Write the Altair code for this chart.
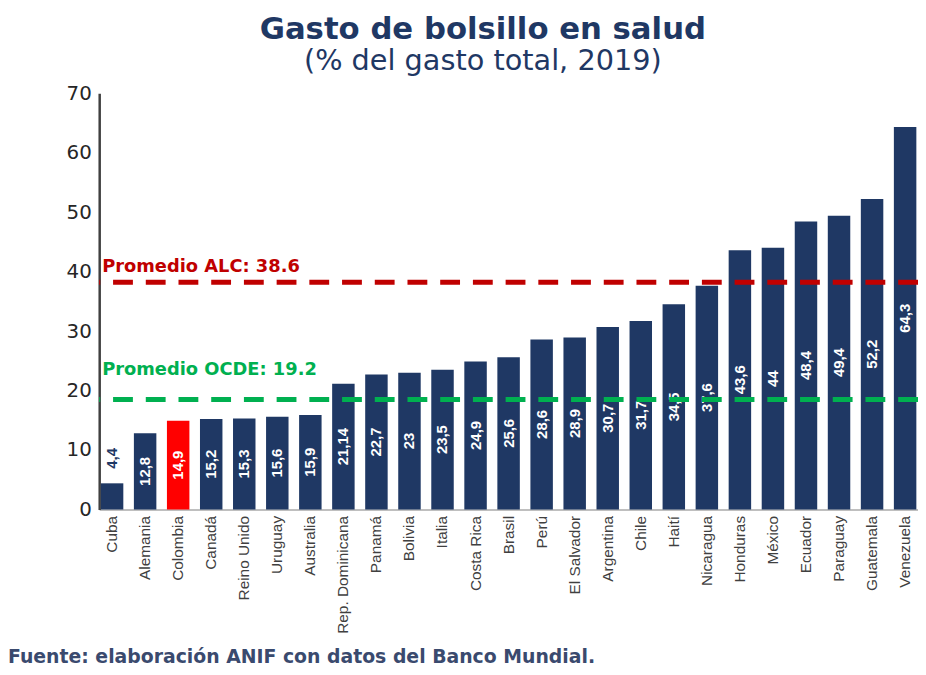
import altair as alt
import pandas as pd

countries = ["Cuba", "Alemania", "Colombia", "Canadá", "Reino Unido", "Uruguay", "Australia",
             "Rep. Dominicana", "Panamá", "Bolivia", "Italia", "Costa Rica", "Brasil", "Perú",
             "El Salvador", "Argentina", "Chile", "Haití", "Nicaragua", "Honduras", "México",
             "Ecuador", "Paraguay", "Guatemala", "Venezuela"]
values = [4.4, 12.8, 14.9, 15.2, 15.3, 15.6, 15.9, 21.14, 22.7, 23, 23.5, 24.9, 25.6, 28.6,
          28.9, 30.7, 31.7, 34.5, 37.6, 43.6, 44, 48.4, 49.4, 52.2, 64.3]
highlight = "Colombia"

avg_labels = ["Promedio ALC: 38.6", "Promedio OCDE: 19.2"]
avg_values = [38.2, 18.5]
avg_colors = ["#C00000", "#00B050"]

title_text = "Gasto de bolsillo en salud"
subtitle_text = "(% del gasto total, 2019)"
source_text = "Fuente: elaboración ANIF con datos del Banco Mundial."

NAVY = "#1F3864"
HORIZ_FONT = "DejaVu Sans"
VERT_FONT = "Liberation Sans Narrow, Liberation Sans, Arial"

df = pd.DataFrame({"pais": countries, "v": values})
avg_df = pd.DataFrame({"lab": avg_labels, "v": avg_values, "c": avg_colors})

W, H = 826, 420

xenc = alt.X("pais:N", sort=None, title=None,
             scale=alt.Scale(paddingInner=0.32, paddingOuter=0.05),
             axis=alt.Axis(labelAngle=270, labelFont=VERT_FONT, labelFontSize=15.5,
                           labelColor="#404040", ticks=False, labelPadding=6,
                           domainColor="#BFBFBF", domainWidth=2))
yscale = alt.Scale(domain=[0, 70], nice=False)

base = alt.Chart(df)

bars = base.mark_bar().encode(
    x=xenc,
    y=alt.Y("v:Q", scale=yscale, title=None,
            axis=alt.Axis(values=[0, 10, 20, 30, 40, 50, 60, 70], grid=False, ticks=False,
                          labelFont=HORIZ_FONT, labelFontSize=20, labelColor="#262626",
                          labelPadding=8, domainColor="#404040", domainWidth=2.5)),
    color=alt.condition(alt.datum.pais == highlight, alt.value("#FF0000"), alt.value(NAVY)),
)

labels = base.transform_calculate(
    ly="datum.v < 8 ? datum.v + 4.2 : datum.v / 2",
    txt="replace(toString(datum.v), '.', ',')",
).mark_text(angle=270, align="center", baseline="middle", font=VERT_FONT,
            fontSize=15, fontWeight="bold").encode(
    x=alt.X("pais:N", sort=None),
    y=alt.Y("ly:Q", scale=yscale),
    text="txt:N",
    color=alt.condition(alt.datum.v < 8, alt.value(NAVY), alt.value("white")),
)

rules = alt.Chart(avg_df).mark_rule(strokeWidth=5, strokeDash=[20, 13]).encode(
    y=alt.Y("v:Q", scale=yscale),
    color=alt.Color("c:N", scale=None),
)

avg_text = alt.Chart(avg_df).transform_calculate(
    ly="datum.v > 30 ? datum.v + 2.6 : datum.v + 5"
).mark_text(align="left", baseline="middle", font=HORIZ_FONT, fontSize=18,
            fontWeight="bold").encode(
    x=alt.value(3),
    y=alt.Y("ly:Q", scale=yscale),
    text="lab:N",
    color=alt.Color("c:N", scale=None),
)

source = alt.Chart(pd.DataFrame({"t": [source_text]})).mark_text(
    align="left", baseline="alphabetic", font=HORIZ_FONT, fontSize=19,
    fontWeight="bold", color="#3A4A6E").encode(
    x=alt.value(-92), y=alt.value(H + 155), text="t:N")

chart = alt.layer(bars, labels, rules, avg_text, source).properties(
    width=W, height=H,
    background="white",
    autosize=alt.AutoSizeParams(type="none"),
    padding={"left": 92, "top": 83, "right": 0, "bottom": 156},
    title=alt.TitleParams(text=title_text, subtitle=subtitle_text, anchor="middle",
                          frame="group", dx=-26, offset=6, font=HORIZ_FONT,
                          fontSize=31, fontWeight="bold", color=NAVY,
                          subtitleFont=HORIZ_FONT, subtitleFontSize=29,
                          subtitleColor=NAVY, subtitlePadding=2),
).configure_view(stroke=None)

chart.save("out.html", embed_options={"renderer": "svg", "actions": False})
